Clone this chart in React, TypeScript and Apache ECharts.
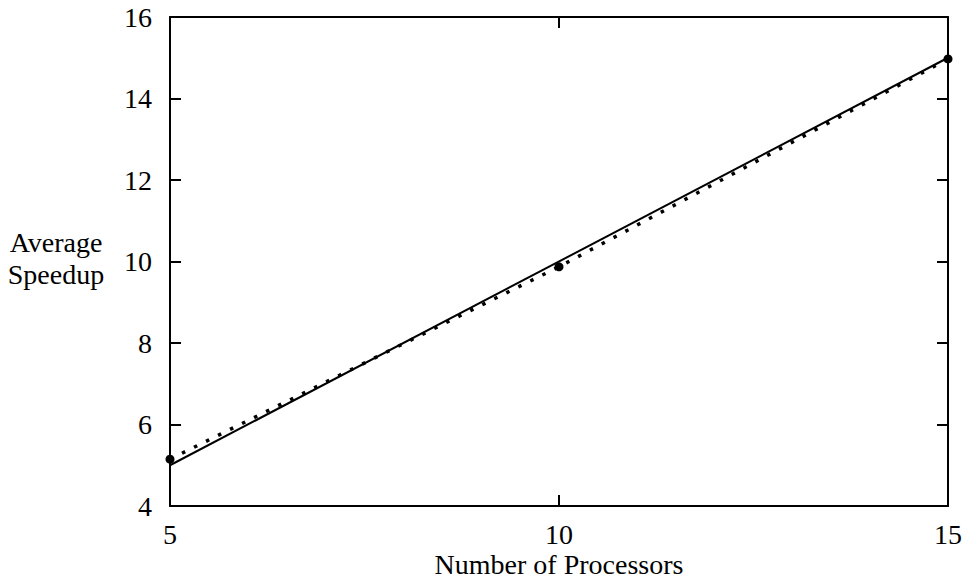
import React, { useEffect, useRef } from "react";
import * as echarts from "echarts";

const xTicks = [5, 10, 15];
const yTicks = [4, 6, 8, 10, 12, 14, 16];
const idealSeries: [number, number][] = [
  [5, 5],
  [15, 15],
];
const measuredSeries: [number, number][] = [
  [5, 5.15],
  [10, 9.87],
  [15, 14.97],
];

const FONT = "Liberation Serif";
const FS = 28;

export default function App() {
  const ref = useRef<HTMLDivElement>(null);
  useEffect(() => {
    if (!ref.current) return;
    const chart = echarts.init(ref.current, null, { renderer: "svg" });
    const axisLine = { show: true, lineStyle: { color: "#000", width: 2 } };
    const tick = { show: true, inside: true, length: 11, lineStyle: { color: "#000", width: 2 } };
    chart.setOption({
      animation: false,
      backgroundColor: "#fff",
      grid: {
        left: 170,
        top: 17,
        right: 14,
        bottom: 72,
        containLabel: false,
        outerBoundsMode: "none",
      },
      xAxis: [
        {
          type: "value",
          min: 5,
          max: 15,
          interval: 5,
          position: "bottom",
          axisLine,
          axisTick: tick,
          splitLine: { show: false },
          axisLabel: {
            color: "#000",
            fontFamily: FONT,
            fontSize: FS,
            margin: 14,
            customValues: xTicks,
          },
          name: "Number of Processors",
          nameLocation: "middle",
          nameGap: 44,
          nameMoveOverlap: false,
          nameTextStyle: { color: "#000", fontFamily: FONT, fontSize: FS },
        },
        {
          type: "value",
          min: 5,
          max: 15,
          interval: 5,
          position: "top",
          axisLine,
          axisTick: tick,
          splitLine: { show: false },
          axisLabel: { show: false },
        },
      ],
      yAxis: [
        {
          type: "value",
          min: 4,
          max: 16,
          interval: 2,
          position: "left",
          axisLine,
          axisTick: tick,
          splitLine: { show: false },
          axisLabel: {
            color: "#000",
            fontFamily: FONT,
            fontSize: FS,
            margin: 18,
            customValues: yTicks,
          },
        },
        {
          type: "value",
          min: 4,
          max: 16,
          interval: 2,
          position: "right",
          axisLine,
          axisTick: tick,
          splitLine: { show: false },
          axisLabel: { show: false },
        },
      ],
      graphic: [
        {
          type: "text",
          x: 56,
          y: 258,
          style: {
            text: "Average\nSpeedup",
            fill: "#000",
            font: `${FS}px "${FONT}"`,
            textAlign: "center",
            textVerticalAlign: "middle",
            lineHeight: 32,
          },
        },
      ],
      series: [
        {
          type: "line",
          data: idealSeries,
          showSymbol: false,
          symbol: "none",
          lineStyle: { color: "#000", width: 2 },
          z: 3,
        },
        {
          type: "line",
          data: measuredSeries,
          symbol: "circle",
          symbolSize: 9,
          showSymbol: true,
          itemStyle: { color: "#000" },
          lineStyle: { color: "#000", width: 3.5, type: [3.5, 9.9], cap: "butt" },
          z: 4,
        },
      ],
    });
    return () => chart.dispose();
  }, []);
  return (
    <div
      ref={ref}
      style={{ position: "fixed", left: 0, top: 0, width: 962, height: 578 }}
    />
  );
}
